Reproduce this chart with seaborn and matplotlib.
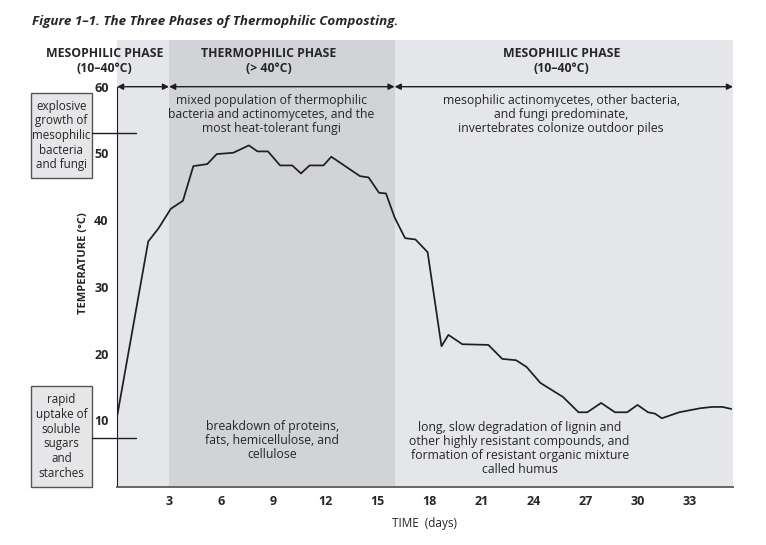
import matplotlib
matplotlib.use('Agg')
import matplotlib.pyplot as plt
import seaborn as sns
import pandas as pd
from matplotlib.patches import Rectangle

# temperature curve
days = [0, 1.8, 2.4, 3.1, 3.8, 4.4, 5.2, 5.75, 6.7, 7.6, 8.1, 8.7, 9.4,
        10.1, 10.6, 11.1, 11.9, 12.35, 14.0, 14.5, 15.1, 15.5, 16.0, 16.6,
        17.2, 17.9, 18.7, 19.1, 19.9, 21.4, 22.2, 23.0, 23.6, 24.4, 25.7,
        26.6, 27.1, 27.9, 28.7, 29.4, 30.0, 30.6, 31.0, 31.4, 32.4, 33.6,
        34.3, 34.9, 35.4]
temps = [10.5, 36.8, 38.8, 41.7, 42.9, 48.1, 48.4, 49.9, 50.1, 51.2, 50.3,
         50.3, 48.2, 48.2, 47.0, 48.2, 48.2, 49.5, 46.6, 46.4, 44.1, 44.0,
         40.4, 37.3, 37.1, 35.2, 21.1, 22.8, 21.4, 21.3, 19.2, 19.0, 18.0,
         15.6, 13.5, 11.2, 11.2, 12.6, 11.2, 11.2, 12.3, 11.2, 11.0, 10.3,
         11.2, 11.8, 12.0, 12.0, 11.7]

phase_bounds = [0, 3, 16, 35.5]
phase_names = ['MESOPHILIC PHASE\n(10\u201340\u00b0C)',
               'THERMOPHILIC PHASE\n(> 40\u00b0C)',
               'MESOPHILIC PHASE\n(10\u201340\u00b0C)']
phase_label_x = [-0.7, 8.75, 25.6]
top_notes = ['mixed population of thermophilic\n'
             'bacteria and actinomycetes, and the\n'
             'most heat-tolerant fungi',
             'mesophilic actinomycetes, other bacteria,\n'
             'and fungi predominate,\n'
             'invertebrates colonize outdoor piles']
bottom_notes = ['breakdown of proteins,\nfats, hemicellulose, and\ncellulose',
                'long, slow degradation of lignin and\n'
                'other highly resistant compounds, and\n'
                'formation of resistant organic mixture\n'
                'called humus']
side_notes = ['explosive\ngrowth of\nmesophilic\nbacteria\nand fungi',
              'rapid\nuptake of\nsoluble\nsugars\nand\nstarches']
side_levels = [53, 7.3]
x_ticks = [3, 6, 9, 12, 15, 18, 21, 24, 27, 30, 33]
y_ticks = [10, 20, 30, 40, 50, 60]

sns.set_style('white')
plt.rcParams['font.family'] = ['Open Sans', 'DejaVu Sans']

LIGHT = '#e5e6ea'
DARK = '#d2d3d7'
INK = '#1e1e1e'
FS = 8.8
LS = 1.12

fig = plt.figure(figsize=(7.66, 5.45), dpi=100)
ax = fig.add_axes([117 / 766, 58 / 545, 616 / 766, 447 / 545])

ax.axvspan(phase_bounds[0], phase_bounds[3], color=LIGHT, lw=0, zorder=0)
ax.axvspan(phase_bounds[1], phase_bounds[2], color=DARK, lw=0, zorder=0)

df = pd.DataFrame({'day': days, 'temp': temps})
sns.lineplot(data=df, x='day', y='temp', ax=ax, color=INK, lw=1.25,
             zorder=3)

ax.set_xlim(0, 35.5)
ax.set_ylim(0, 67)
ax.set_xticks(x_ticks)
ax.set_yticks(y_ticks)
ax.tick_params(direction='inout', length=8, width=1, color='#555555',
               labelsize=9, pad=2)
for lab in ax.get_xticklabels() + ax.get_yticklabels():
    lab.set_fontweight('bold')
for s in ['top', 'right']:
    ax.spines[s].set_visible(False)
ax.spines['left'].set_bounds(0, 60)
ax.spines['left'].set_color(INK)
ax.spines['bottom'].set_color('#666666')
ax.spines['bottom'].set_linewidth(1.4)
ax.set_xlabel('TIME  (days)', fontsize=8.5, labelpad=6)
ax.set_ylabel('TEMPERATURE (\u00b0C)', fontsize=8, fontweight='bold',
              labelpad=4)

# phase headers and arrows
for i in range(3):
    a, b = phase_bounds[i], phase_bounds[i + 1]
    ax.text(phase_label_x[i], 63.8, phase_names[i], ha='center',
            va='center', fontsize=FS, fontweight='bold', linespacing=1.2,
            clip_on=False)
    ax.annotate('', xy=(a, 60), xytext=(b, 60),
                arrowprops=dict(arrowstyle='<|-|>', color=INK, lw=1,
                                mutation_scale=9, shrinkA=0, shrinkB=0))

ax.text(8.9, 55.8, top_notes[0], ha='center', va='center', fontsize=FS,
        linespacing=LS)
ax.text(25.6, 55.8, top_notes[1], ha='center', va='center', fontsize=FS,
        linespacing=LS)
ax.text(8.95, 7.0, bottom_notes[0], ha='center', va='center', fontsize=FS,
        linespacing=LS)
ax.text(23.2, 5.8, bottom_notes[1], ha='center', va='center', fontsize=FS,
        linespacing=LS)

# side boxes with connector lines
boxes = [(59.1, 46.3), (15.1, 0.0)]
for note, level, (top, bot) in zip(side_notes, side_levels, boxes):
    ax.add_patch(Rectangle((-4.95, bot), 3.5, top - bot, facecolor='#e6e6e8',
                           edgecolor='#555555', lw=1, clip_on=False,
                           zorder=4))
    ax.text(-3.2, (top + bot) / 2, note, ha='center', va='center',
            fontsize=8.4, linespacing=1.17, clip_on=False, zorder=5)
    ax.plot([-1.45, 1.1], [level, level], color=INK, lw=1, clip_on=False,
            zorder=4)

fig.text(32 / 766, 1 - 22 / 545,
         'Figure 1\u20131. The Three Phases of Thermophilic Composting.',
         fontsize=9.6, fontweight='bold', fontstyle='italic', va='center')

fig.savefig('out.png', dpi=100)
